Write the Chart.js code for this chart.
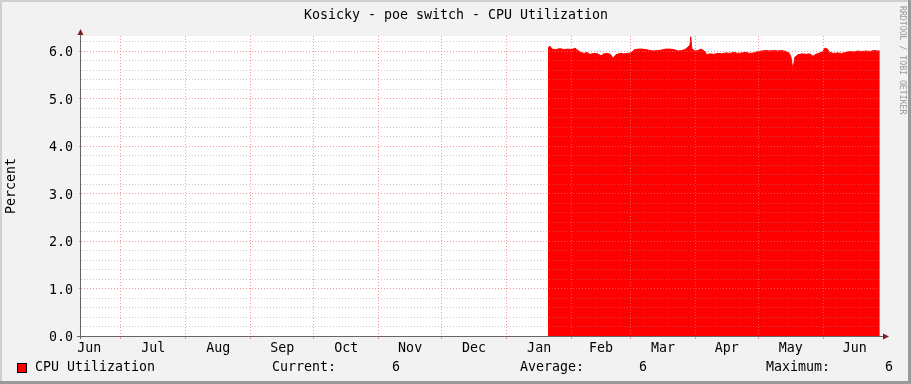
<!DOCTYPE html>
<html><head><meta charset="utf-8">
<script src="https://cdn.jsdelivr.net/npm/chart.js@4.4.0/dist/chart.umd.min.js"></script>
<style>html,body{margin:0;padding:0;background:#f2f2f2;overflow:hidden}canvas{display:block}</style>
</head><body><canvas id="c" width="911" height="384"></canvas>
<script>
const chartTitle = "Kosicky - poe switch - CPU Utilization";
const seriesName = "CPU Utilization";
const yTitle = "Percent";
const watermark = "RRDTOOL / TOBI OETIKER";
// x values are days counted from 1 Jun of the first year
const monthNames = ["Jun","Jul","Aug","Sep","Oct","Nov","Dec","Jan","Feb","Mar","Apr","May","Jun"];
const monthLabelDays = [15,45.5,76.5,107,137.5,168,198.5,229.5,259,288.5,319,349.5,380];
const monthStartDays = [30,61,92,122,153,183,214,245,273,304,334,365];
const xRange = [11.1, 392];
const yMax = 6.316;
const yTickValues = [0,0.2,0.4,0.6,0.8,1,1.2,1.4,1.6,1.8,2,2.2,2.4,2.6,2.8,3,3.2,3.4,3.6,3.8,4,4.2,4.4,4.6,4.8,5,5.2,5.4,5.6,5.8,6,6.2];
const days = [233.7,234.7,235.6,237.5,239.4,241.3,243.2,245.1,246.6,248.0,249.4,250.9,252.3,253.7,255.6,257.5,259.0,260.4,262.3,263.7,264.7,266.1,268.0,269.9,271.8,273.3,274.7,276.6,278.5,280.4,282.3,284.2,286.1,288.0,289.9,291.8,293.7,295.7,297.6,299.0,300.4,301.4,301.8,302.3,303.8,305.2,306.6,308.0,309.5,310.9,312.8,314.7,316.6,318.5,320.4,322.3,324.3,326.2,328.1,330.0,331.9,333.8,335.7,337.6,339.5,341.4,343.3,345.2,347.1,348.6,349.5,350.5,351.4,352.9,354.8,356.7,358.6,360.0,361.4,363.3,364.8,365.7,366.7,368.1,370.0,371.9,373.8,375.7,377.6,379.5,381.4,383.3,385.3,387.2,389.1,391.0,391.9];
const cpu = [6.07,6.10,6.04,6.03,6.05,6.03,6.04,6.03,6.06,6.01,5.97,5.95,5.97,5.93,5.95,5.94,5.90,5.94,5.95,5.92,5.84,5.92,5.95,5.94,5.95,5.96,6.02,6.04,6.04,6.03,6.01,6.00,6.01,6.02,6.04,6.04,6.03,6.00,6.01,6.03,6.08,6.12,6.30,6.05,6.00,6.01,6.04,6.01,5.92,5.94,5.93,5.95,5.94,5.96,5.95,5.97,5.95,5.96,5.97,5.95,5.96,5.99,6.00,6.01,6.00,6.01,6.00,6.01,5.99,5.96,5.88,5.61,5.87,5.92,5.94,5.93,5.94,5.89,5.93,5.96,5.99,6.06,6.05,5.97,5.95,5.96,5.95,5.97,5.99,5.98,6.00,5.99,6.00,5.99,6.01,6.00,6.00];
const currentVal = "6";
const averageVal = "6";
const maximumVal = "6";

const FONT = '"DejaVu Sans Mono", monospace';
const MAJOR = 'rgba(240,110,110,0.7)';
const MINOR = 'rgba(150,150,150,0.5)';

const decor = {
  id: 'decor',
  beforeDraw(chart) {
    const c = chart.ctx, a = chart.chartArea;
    c.save();
    c.fillStyle = '#f2f2f2'; c.fillRect(0, 0, 911, 384);
    c.fillStyle = '#cfcfcf'; c.fillRect(0, 0, 911, 2); c.fillRect(0, 0, 2, 384);
    c.fillStyle = '#9a9a9a'; c.fillRect(908, 0, 3, 384); c.fillRect(0, 381, 911, 3);
    c.fillStyle = '#ffffff'; c.fillRect(a.left, a.top, a.right - a.left, a.bottom - a.top);
    c.restore();
  },
  afterDraw(chart) {
    const c = chart.ctx, a = chart.chartArea;
    c.save();
    c.strokeStyle = '#666'; c.lineWidth = 1;
    c.beginPath();
    c.moveTo(a.left - 0.5, a.bottom + 3); c.lineTo(a.left - 0.5, a.top - 3);
    c.moveTo(a.left - 4, a.bottom + 0.5); c.lineTo(a.right + 3, a.bottom + 0.5);
    c.stroke();
    c.fillStyle = '#7f1f1f';
    c.beginPath();
    c.moveTo(a.left - 3.5, a.top - 1); c.lineTo(a.left + 2.5, a.top - 1); c.lineTo(a.left - 0.5, a.top - 7); c.closePath(); c.fill();
    c.beginPath();
    c.moveTo(a.right + 3, a.bottom - 2.5); c.lineTo(a.right + 3, a.bottom + 3.5); c.lineTo(a.right + 9, a.bottom + 0.5); c.closePath(); c.fill();
    c.fillStyle = '#000';
    c.font = '13.3px ' + FONT;
    c.textBaseline = 'middle';
    c.textAlign = 'center';
    c.fillText(chartTitle, 456, 16);
    c.textAlign = 'left';
    c.fillText(seriesName, 35, 368);
    c.fillText('Current:', 272, 368);
    c.fillText(currentVal, 392, 368);
    c.fillText('Average:', 520, 368);
    c.fillText(averageVal, 639, 368);
    c.fillText('Maximum:', 766, 368);
    c.fillText(maximumVal, 885, 368);
    c.fillStyle = '#ff0000'; c.fillRect(17, 363, 10, 10);
    c.strokeStyle = '#000'; c.strokeRect(17.5, 363.5, 9, 9);
    c.save(); c.translate(12, 186); c.rotate(-Math.PI / 2);
    c.textAlign = 'center'; c.fillStyle = '#000'; c.fillText(yTitle, 0, 0); c.restore();
    c.save(); c.translate(902, 6); c.rotate(Math.PI / 2);
    c.font = '8.2px ' + FONT; c.fillStyle = '#999'; c.textAlign = 'left';
    c.fillText(watermark, 0, 0); c.restore();
    c.restore();
  }
};

new Chart(document.getElementById('c'), {
  type: 'line',
  data: { datasets: [{
    label: seriesName,
    data: days.map((d, i) => ({ x: d, y: cpu[i] })),
    borderColor: '#ff0000', backgroundColor: '#ff0000', borderWidth: 1,
    fill: 'origin', pointRadius: 0, tension: 0
  }]},
  options: {
    responsive: false, animation: false, devicePixelRatio: 1,
    layout: { padding: { top: 36, right: 31, left: 0, bottom: 0 } },
    plugins: { legend: { display: false }, tooltip: { enabled: false }, title: { display: false } },
    scales: {
      x: {
        type: 'linear', position: 'bottom', min: xRange[0], max: xRange[1], weight: 0,
        afterBuildTicks: s => { s.ticks = monthStartDays.map(v => ({ value: v })); },
        afterFit: s => { s.height = 0; },
        ticks: { display: false },
        grid: { z: 1, color: MAJOR, tickColor: MAJOR, tickLength: 3, drawTicks: true, lineWidth: 1 },
        border: { display: false, dash: [1, 2] }
      },
      x2: {
        type: 'linear', position: 'bottom', min: xRange[0], max: xRange[1], weight: 1,
        afterBuildTicks: s => { s.ticks = monthLabelDays.map(v => ({ value: v })); },
        afterFit: s => { s.height = 48; },
        grid: { display: false, drawTicks: false },
        border: { display: false },
        ticks: { autoSkip: false, maxRotation: 0, padding: 5, color: '#000',
          font: { family: FONT, size: 13.3 },
          callback: (v, i) => monthNames[i] }
      },
      y: {
        type: 'linear', position: 'left', min: 0, max: yMax,
        afterBuildTicks: s => { s.ticks = yTickValues.map(v => ({ value: v })); },
        afterFit: s => { s.width = 81; },
        ticks: { autoSkip: false, padding: 6, labelOffset: 2, color: '#000',
          font: { family: FONT, size: 13.3 },
          callback: v => Number.isInteger(v) ? v.toFixed(1) : '' },
        grid: { z: 1, lineWidth: 1, tickLength: 2,
          color: ctx => Number.isInteger(ctx.tick.value) ? MAJOR : MINOR,
          tickColor: ctx => Number.isInteger(ctx.tick.value) ? MAJOR : 'rgba(0,0,0,0)' },
        border: { display: false, dash: [1, 2] }
      }
    }
  },
  plugins: [decor]
});
</script>
</body></html>
